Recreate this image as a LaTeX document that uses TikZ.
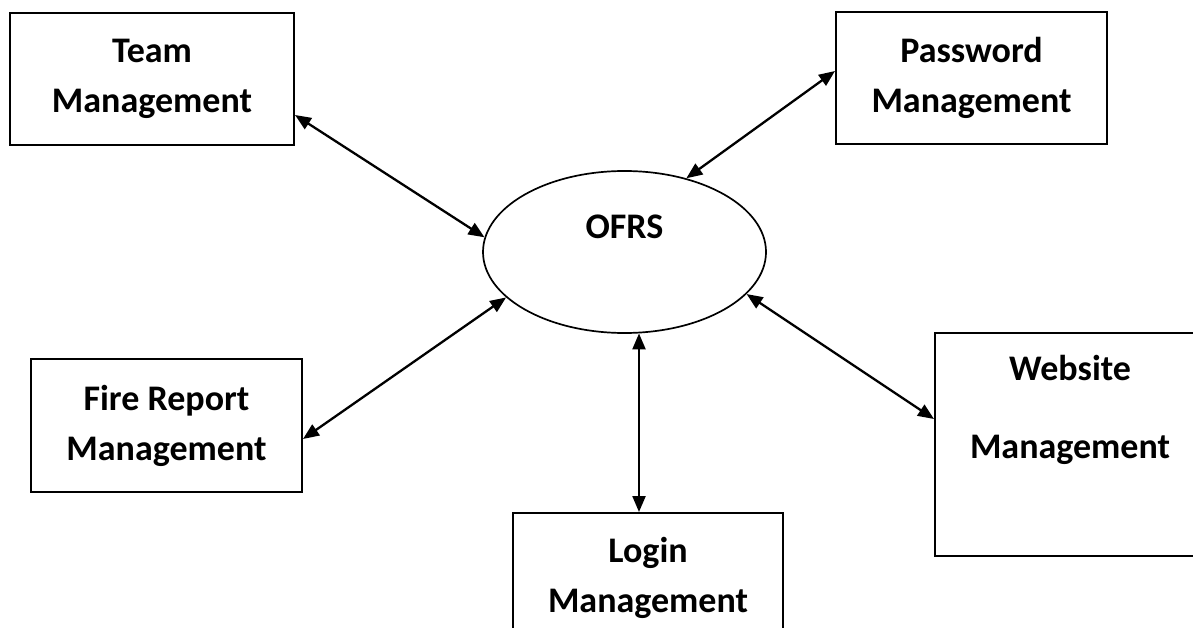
\documentclass[tikz,border=0pt]{standalone}
\usepackage{fontspec}
\setmainfont{Carlito}
\usetikzlibrary{arrows.meta,shapes.geometric}
\begin{document}
\begin{tikzpicture}[x=1pt,y=-1pt,
  boxnode/.style={draw, line width=2pt, rectangle, align=center, inner sep=0pt,
    font=\bfseries\fontsize{36}{50}\selectfont},
  hub/.style={draw, line width=1.7pt, ellipse, align=center, inner sep=0pt,
    minimum width=283pt, minimum height=162pt,
    font=\bfseries\fontsize{36}{50}\selectfont},
  link/.style={line width=2.3pt,
    {Triangle[length=16pt,width=13pt]}-{Triangle[length=16pt,width=13pt]}}]
\useasboundingbox (0,0) rectangle (1193,628);
\clip (0,0) rectangle (1193,628);

% central system
\node[hub] (ofrs) at (624.5,252) {OFRS\\~};

% surrounding modules
\node[boxnode, minimum width=284pt, minimum height=132pt] (team) at (152,79)
  {Team\\Management};
\node[boxnode, minimum width=271pt, minimum height=132pt] (pw) at (971.5,78)
  {Password\\Management};
\node[boxnode, minimum width=271pt, minimum height=133pt] (fire) at (166.5,425.5)
  {Fire Report\\Management};
\node[boxnode, minimum width=270pt, minimum height=130pt] (login) at (648,578)
  {Login\\Management};
\node[boxnode, minimum width=270pt, minimum height=223pt] (web) at (1070,444.5)
  {Website\\[28pt]Management\\[25pt]~};

% two-way data flows
\coordinate (lgtop) at ([xshift=-9pt]login.north);
\draw[link] ([yshift=31pt]team.south east) -- (ofrs.174);
\draw[link] ([yshift=-60pt]pw.north west) -- (ofrs.50);
\draw[link] ([yshift=54pt]fire.south east) -- (ofrs.201.5);
\draw[link] ([yshift=-87pt]web.north west) -- (ofrs.341);
\draw[link] (lgtop) -- (lgtop |- ofrs.280);
\end{tikzpicture}
\end{document}
